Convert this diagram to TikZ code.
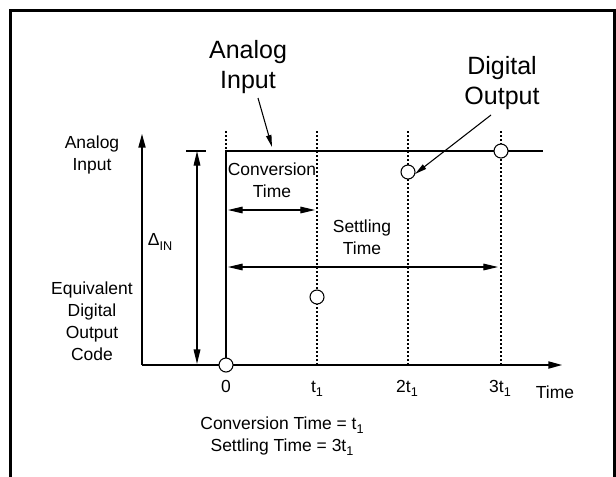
\documentclass[tikz,border=0pt]{standalone}
\usepackage{fontspec}
\setmainfont{Liberation Sans}
\usetikzlibrary{arrows.meta}
% lowered small index, as in t_1 and Delta_IN
\newcommand\lowidx[1]{\raisebox{-0.45ex}{\fontsize{9.5}{10}\selectfont #1}}
\begin{document}
\begin{tikzpicture}[x=0.75pt,y=-0.75pt,
  lbl/.style={font=\fontsize{13.1}{16.6}\selectfont, align=center, inner sep=0pt},
  biglbl/.style={font=\fontsize{18.75}{23}\selectfont, align=center, inner sep=0pt},
  frameline/.style={line width=2pt},
  axisline/.style={line width=2pt, -{Triangle[length=11pt,width=5pt]}},
  stepline/.style={line width=1.8pt},
  dimline/.style={line width=0.8pt, {Triangle[length=11pt,width=5pt]}-{Triangle[length=11pt,width=5pt]}},
  pointer/.style={line width=0.8pt, -{Triangle[length=9pt,width=4pt]}},
  gridline/.style={line width=0.8pt, dash pattern=on 1.5pt off 1.5pt},
  sample/.style={circle, draw, fill=white, line width=0.8pt, minimum size=10.5pt, inner sep=0pt}
]
\useasboundingbox (0,0) rectangle (616,476);

% outer frame (open at the bottom)
\draw[frameline] (10.7,480) -- (10.7,10.7) -- (614.6,10.7) -- (614.6,480);

% time grid
\coordinate (g0top) at (226,131);
\coordinate (g0bot) at (226,151);
\coordinate (g1top) at (317,131);
\coordinate (g1bot) at (317,365);
\coordinate (g2top) at (408,131);
\coordinate (g2bot) at (408,365);
\coordinate (g3top) at (501,131);
\coordinate (g3bot) at (501,365);
\draw[gridline] (g0top) -- (g0bot);
\draw[gridline] (g1top) -- (g1bot);
\draw[gridline] (g2top) -- (g2bot);
\draw[gridline] (g3top) -- (g3bot);

% axes
\coordinate (origin) at (142,365);
\coordinate (ytip) at (142,133);
\coordinate (xtip) at (563,365);
\draw[axisline] (origin) -- (ytip);
\draw[axisline] (origin) -- (xtip);

% input step
\coordinate (stepbase) at (226,365);
\coordinate (stepcorner) at (226,151);
\coordinate (stepend) at (543,151);
\draw[stepline] (stepbase) -- (stepcorner) -- (stepend);

% input step size
\coordinate (dtop) at (197,151);
\coordinate (dbot) at (197,364);
\coordinate (barl) at (186,151);
\coordinate (barr) at (206,151);
\draw[line width=1.8pt] (barl) -- (barr);
\draw[line width=1pt, {Triangle[length=11pt,width=5pt]}-{Triangle[length=11pt,width=5pt]}] (dtop) -- (dbot);
\node[lbl] (din) at (160,242) {Δ\lowidx{IN}};

% conversion and settling spans
\coordinate (cvl) at (228,210);
\coordinate (cvr) at (315,210);
\draw[dimline] (cvl) -- (cvr);
\coordinate (stl) at (228,267);
\coordinate (str) at (498,267);
\draw[dimline] (stl) -- (str);
\node[lbl] (cvlbl) at (272,180) {Conversion\\Time};
\node[lbl] (stlbl) at (362,237) {Settling\\Time};

% output samples
\node[sample] (s0) at (226,365) {};
\node[sample] (s1) at (317,297) {};
\node[sample] (s2) at (408,172) {};
\node[sample] (s3) at (501,151) {};

% axis labels
\node[lbl] (yin) at (92,155) {Analog\\Input};
\node[lbl] (yout) at (92,321) {Equivalent\\Digital\\Output\\Code};
\node[lbl, anchor=base] (t0) at (226,392) {0};
\node[lbl, anchor=base] (t1) at (317,392) {t\lowidx{1}};
\node[lbl, anchor=base] (t2) at (407,392) {2t\lowidx{1}};
\node[lbl, anchor=base] (t3) at (500,392) {3t\lowidx{1}};
\node[lbl, anchor=base] (tlbl) at (555,398) {Time};

% callouts
\node[biglbl] (ain) at (248,67) {Analog\\Input};
\node[biglbl] (dout) at (502,83) {Digital\\Output};
\coordinate (ainfrom) at (258,98);
\coordinate (ainto) at (272,147);
\draw[pointer] (ainfrom) -- (ainto);
\coordinate (doutfrom) at (491,115);
\coordinate (doutto) at (415,174);
\draw[pointer] (doutfrom) -- (doutto);

% relations
\node[lbl] (rel) at (282,436) {Conversion Time = t\lowidx{1}\\Settling Time = 3t\lowidx{1}};
\end{tikzpicture}
\end{document}
